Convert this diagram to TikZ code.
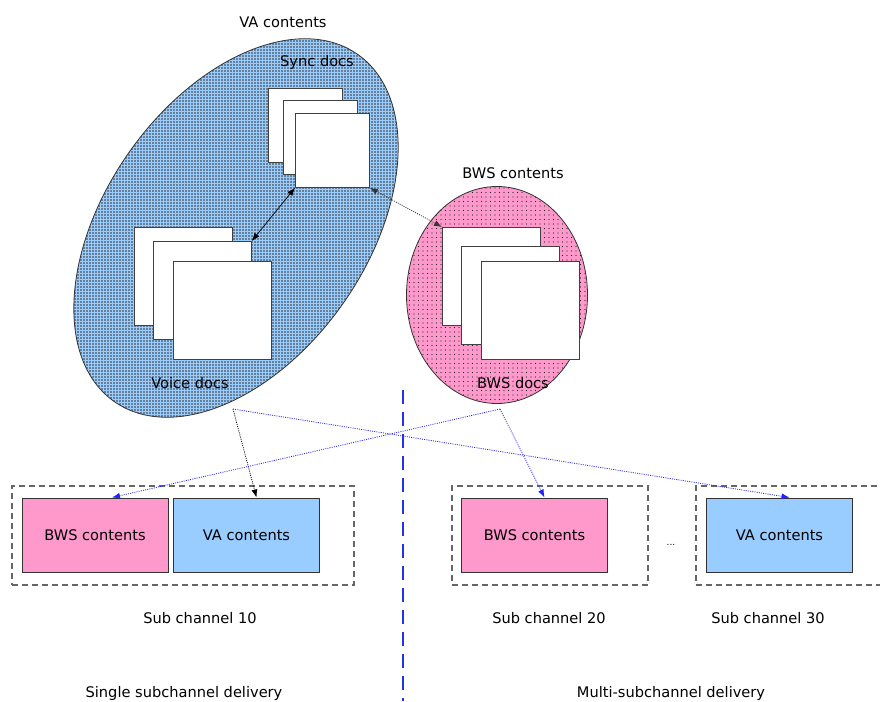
\documentclass[tikz,border=0pt]{standalone}
\usepackage{fontspec}
\setmainfont{DejaVu Sans}
\usetikzlibrary{arrows.meta,shapes.geometric,patterns}

% dense dot pattern for the VA area
\pgfdeclarepatternformonly{densedots}{\pgfqpoint{-1pt}{-1pt}}{\pgfqpoint{1pt}{1pt}}{\pgfqpoint{3pt}{3pt}}{%
  \pgfpathcircle{\pgfqpoint{0pt}{0pt}}{0.8pt}\pgfusepath{fill}}
% sparser dot pattern for the BWS area
\pgfdeclarepatternformonly{loosedots}{\pgfqpoint{-1pt}{-1pt}}{\pgfqpoint{1pt}{1pt}}{\pgfqpoint{4.5pt}{4.5pt}}{%
  \pgfpathcircle{\pgfqpoint{0pt}{0pt}}{0.7pt}\pgfusepath{fill}}

\definecolor{vablue}{HTML}{99CCFF}
\definecolor{bwspink}{HTML}{FF99CC}
\definecolor{divblue}{HTML}{2233EE}
\definecolor{linkblue}{HTML}{2222FF}

\tikzset{
  area/.style={ellipse, inner sep=0pt, draw=black!80, line width=0.8pt},
  vaarea/.style={area, preaction={fill=vablue}, pattern=densedots, pattern color=black!80},
  bwsarea/.style={area, preaction={fill=bwspink}, pattern=loosedots, pattern color=black!85},
  doc/.style={draw=black!75, fill=white, line width=0.8pt, inner sep=0pt, anchor=north west},
  smalldoc/.style={doc, minimum width=74pt, minimum height=74pt},
  bigdoc/.style={doc, minimum width=98pt, minimum height=98pt},
  chbox/.style={draw=black!80, line width=1pt, minimum width=146pt, minimum height=74pt, inner sep=0pt},
  group/.style={draw=black!60, line width=1.2pt, dash pattern=on 6pt off 4pt, inner sep=0pt, minimum height=99pt},
  tip/.style={-{Latex[length=8pt,width=6pt]}},
  link/.style={line width=0.7pt},
  dotlink/.style={line width=0.8pt, dash pattern=on 1pt off 1.2pt},
  lbl/.style={inner sep=1pt},
}

\begin{document}
\begin{tikzpicture}[x=1pt, y=-1pt, font=\fontsize{14.6}{17}\selectfont]
\useasboundingbox (0,0) rectangle (880,701);

% content areas
\node[vaarea, minimum width=424pt, minimum height=262pt, rotate=55] (va) at (236,228) {};
\node[bwsarea, minimum width=181pt, minimum height=217pt] (bws) at (497,295) {};

% area titles
\node[lbl] (vatitle) at (283,22) {VA contents};
\node[lbl] (bwstitle) at (513,173) {BWS contents};
\node[lbl] (synclbl) at (317,62) {Sync docs};
\node[lbl] (voicelbl) at (190,383) {Voice docs};
\node[lbl] (bwslbl) at (513,383) {BWS docs};

% document stacks
\node[smalldoc] (sync1) at (268,88) {};
\node[smalldoc] (sync2) at (283,100) {};
\node[smalldoc] (sync3) at (295,113) {};
\node[bigdoc] (voice1) at (134,227) {};
\node[bigdoc] (voice2) at (153,241) {};
\node[bigdoc] (voice3) at (173,261) {};
\node[bigdoc] (bws1) at (442,227) {};
\node[bigdoc] (bws2) at (461,246) {};
\node[bigdoc] (bws3) at (481,261) {};

% links between the document sets
\draw[link, {Latex[length=8pt,width=6pt]}-{Latex[length=8pt,width=6pt]}] (sync3.south west) -- (voice2.north east);
\draw[dotlink, black!80, {Latex[length=8pt,width=6pt]}-{Latex[length=8pt,width=6pt]}] (sync3.south east) -- (bws1.north west);

% divider between the two delivery modes
\draw[divblue, line width=1.8pt, dash pattern=on 14pt off 8pt] (403,390) -- (403,701);

% sub channel groups
\node[group, minimum width=342pt] (grp10) at (183,535.5) {};
\node[group, minimum width=196pt] (grp20) at (550,535.5) {};
\node[group, minimum width=196pt] (grp30) at (794,535.5) {};

\node[chbox, fill=bwspink] (bws10) at (95,535) {BWS contents};
\node[chbox, fill=vablue] (va10) at (246.5,535) {VA contents};
\node[chbox, fill=bwspink] (bws20) at (534.5,535) {BWS contents};
\node[chbox, fill=vablue] (va30) at (779.5,535) {VA contents};
\node[lbl, font=\fontsize{9}{11}\selectfont] (dots) at (671,545) {...};

\node[lbl] (cap10) at (200,618) {Sub channel 10};
\node[lbl] (cap20) at (549,618) {Sub channel 20};
\node[lbl] (cap30) at (768,618) {Sub channel 30};

\node[lbl, anchor=base] (single) at (184,697) {Single subchannel delivery};
\node[lbl, anchor=base] (multi) at (671,697) {Multi-subchannel delivery};

% delivery links
\coordinate (vaout) at (233,409);
\coordinate (bwsout) at (500,409);
\draw[dotlink, black, tip] (vaout) -- ([xshift=10pt]va10.north);
\draw[dotlink, linkblue, tip] (vaout) -- ([xshift=10pt]va30.north);
\draw[dotlink, linkblue, tip] (bwsout) -- ([xshift=17pt]bws10.north);
\draw[dotlink, linkblue, tip] (bwsout) -- ([xshift=10pt]bws20.north);
\end{tikzpicture}
\end{document}
